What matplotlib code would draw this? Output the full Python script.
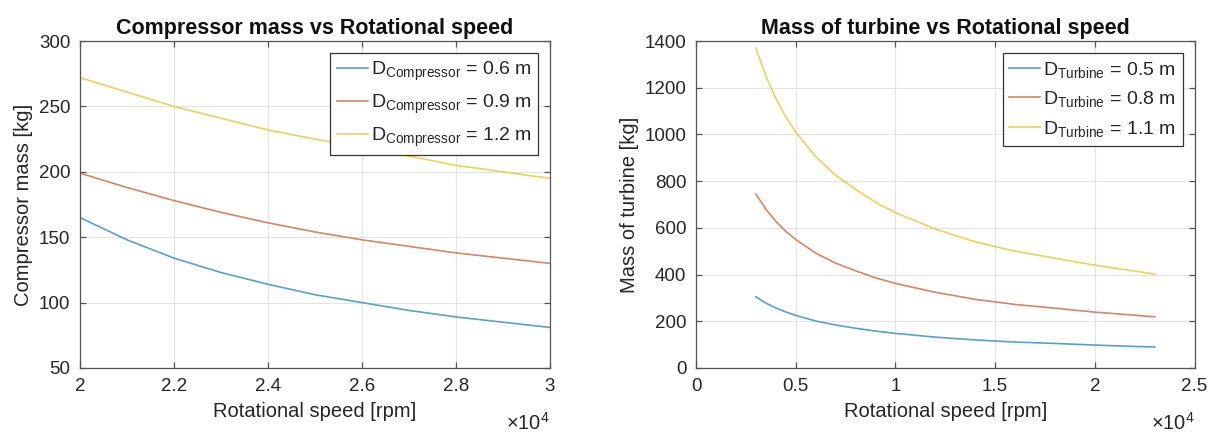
import matplotlib
matplotlib.use('Agg')
import matplotlib.pyplot as plt
from matplotlib.ticker import FuncFormatter

plt.rcParams['font.family'] = ['Liberation Sans', 'DejaVu Sans']
plt.rcParams['mathtext.fontset'] = 'custom'
plt.rcParams['mathtext.rm'] = 'Liberation Sans'
plt.rcParams['mathtext.it'] = 'Liberation Sans'

# ---- data ----
comp_speed = [20000, 21000, 22000, 23000, 24000, 25000, 26000, 27000, 28000, 29000, 30000]
comp_d06 = [165, 148, 134, 123, 114, 106, 100, 94, 89, 85, 81]
comp_d09 = [199, 188, 178, 169, 161, 154, 148, 143, 138, 134, 130]
comp_d12 = [272, 261, 250, 241, 232, 225, 219, 212, 205, 200, 195]
comp_labels = [r'D$_{\mathrm{Compressor}}$ = 0.6 m',
               r'D$_{\mathrm{Compressor}}$ = 0.9 m',
               r'D$_{\mathrm{Compressor}}$ = 1.2 m']

turb_speed = [3000, 3500, 4000, 4500, 5000, 6000, 7000, 8000, 9000, 10000,
              12000, 14000, 16000, 18000, 20000, 22000, 23000]
turb_d05 = [305, 278, 257, 240, 225, 201, 184, 170, 158, 148, 132, 120, 111, 105, 98, 92, 90]
turb_d08 = [745, 680, 628, 585, 550, 492, 449, 416, 386, 362, 324, 294, 272, 256, 239, 226, 219]
turb_d11 = [1370, 1250, 1155, 1075, 1010, 905, 825, 765, 710, 665, 595, 540, 500, 470, 440, 415, 402]
turb_labels = [r'D$_{\mathrm{Turbine}}$ = 0.5 m',
               r'D$_{\mathrm{Turbine}}$ = 0.8 m',
               r'D$_{\mathrm{Turbine}}$ = 1.1 m']

colors = ['#55a3c9', '#d4856a', '#e8d25e']
txt = '#262626'


def style_axes(ax):
    # matlab look: box, inward ticks, light grid
    ax.grid(True, color='#e3e3e3', linewidth=0.8)
    ax.set_axisbelow(True)
    for s in ax.spines.values():
        s.set_color('#555555')
        s.set_linewidth(0.9)
    ax.tick_params(direction='in', top=True, right=True, length=4, width=0.9,
                   color='#555555', labelsize=13.5, labelcolor=txt, pad=7)
    ax.xaxis.set_major_formatter(FuncFormatter(lambda v, p: '%g' % (v / 1e4)))
    ax.text(1.0, -0.135, r'$\times$10$^4$', transform=ax.transAxes, ha='right', va='top',
            fontsize=14.5, color=txt)


fig = plt.figure(figsize=(12.16, 4.37), dpi=100)
ax1 = fig.add_axes([0.0658, 0.158, 0.3865, 0.748])
ax2 = fig.add_axes([0.5724, 0.158, 0.410, 0.748])

for y, c, lab in zip([comp_d06, comp_d09, comp_d12], colors, comp_labels):
    ax1.plot(comp_speed, y, color=c, linewidth=1.2, label=lab)
ax1.set_xlim(20000, 30000)
ax1.set_ylim(50, 300)
ax1.set_xticks([20000, 22000, 24000, 26000, 28000, 30000])
ax1.set_yticks([50, 100, 150, 200, 250, 300])
style_axes(ax1)
ax1.set_title('Compressor mass vs Rotational speed', fontsize=15.5, fontweight='bold', color='#111111', pad=5)
ax1.set_xlabel('Rotational speed [rpm]', fontsize=14.5, color=txt, labelpad=5)
ax1.set_ylabel('Compressor mass [kg]', fontsize=14.5, color=txt)

for y, c, lab in zip([turb_d05, turb_d08, turb_d11], colors, turb_labels):
    ax2.plot(turb_speed, y, color=c, linewidth=1.2, label=lab)
ax2.set_xlim(0, 25000)
ax2.set_ylim(0, 1400)
ax2.set_xticks([0, 5000, 10000, 15000, 20000, 25000])
ax2.set_yticks(range(0, 1401, 200))
style_axes(ax2)
ax2.set_title('Mass of turbine vs Rotational speed', fontsize=15.5, fontweight='bold', color='#111111', pad=5)
ax2.set_xlabel('Rotational speed [rpm]', fontsize=14.5, color=txt, labelpad=5)
ax2.set_ylabel('Mass of turbine [kg]', fontsize=14.5, color=txt)

for ax in (ax1, ax2):
    leg = ax.legend(loc='upper right', fontsize=14, fancybox=False, framealpha=1,
                    edgecolor='#333333', handlelength=1.6, handletextpad=0.15,
                    borderpad=0.35, labelspacing=0.5, borderaxespad=0.6)
    leg.get_frame().set_linewidth(0.9)
    for t in leg.get_texts():
        t.set_color(txt)

fig.savefig('out.png', dpi=100)
